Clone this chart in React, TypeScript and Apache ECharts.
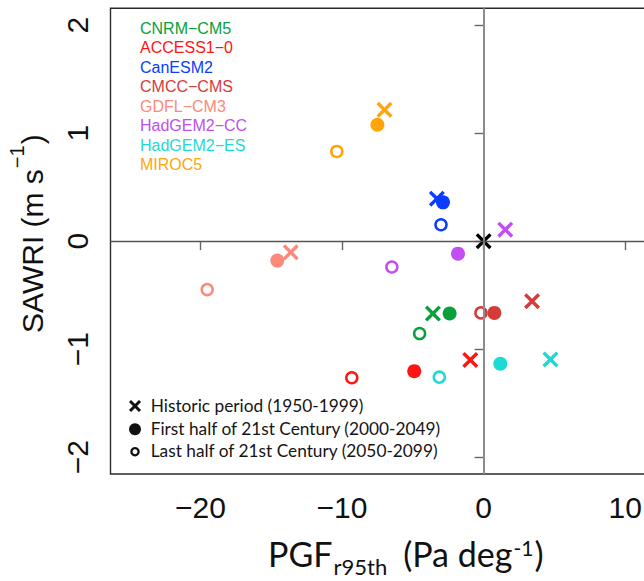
import React, { useEffect, useRef } from 'react';
import * as echarts from 'echarts';

// Models (legend labels) and colours
const models = ['CNRM−CM5', 'ACCESS1−0', 'CanESM2', 'CMCC−CMS', 'GDFL−CM3', 'HadGEM2−CC', 'HadGEM2−ES', 'MIROC5'];
const colors = ['#08A03A', '#FF1414', '#0A3CFF', '#D43C3C', '#FA8A7C', '#C04EF2', '#1DDAD2', '#FFA50A'];

// Historic period (1950-1999)  ×
const histX = [-3.58, -0.94, -3.30, 3.42, -13.62, 1.53, 4.72, -7.0];
const histY = [-0.67, -1.10, 0.393, -0.556, -0.103, 0.106, -1.095, 1.215];
// First half of 21st Century (2000-2049)  ●
const firstX = [-2.40, -4.90, -2.87, 0.76, -14.57, -1.81, 1.18, -7.5];
const firstY = [-0.67, -1.203, 0.359, -0.664, -0.18, -0.116, -1.135, 1.077];
// Last half of 21st Century (2050-2099)  o
const lastX = [-4.52, -9.31, -3.01, -0.19, -19.52, -6.48, -3.13, -10.37];
const lastY = [-0.855, -1.264, 0.152, -0.664, -0.448, -0.239, -1.259, 0.83];
// Reference point (black ×)
const refX = [0];
const refY = [0];

const xTicks = [-20, -10, 0, 10];
const yTicks = [-2, -1, 0, 1, 2];
const periodLabels = [
  'Historic period (1950-1999)',
  'First half of 21st Century (2000-2049)',
  'Last half of 21st Century (2050-2099)',
];

const X_PATH = 'path://M3,0 L10,7 L17,0 L20,3 L13,10 L20,17 L17,20 L10,13 L3,20 L0,17 L7,10 L0,3 Z';
const SANS = '"Liberation Sans", Arial, Helvetica, sans-serif';
const CAL = 'Lato, "Open Sans", sans-serif';

const fmt = (v: number) => (v < 0 ? '−' + Math.abs(v) : String(v));

function measure(text: string, font: string): number {
  const c = document.createElement('canvas').getContext('2d');
  if (!c) return text.length * 10;
  c.font = font;
  return c.measureText(text).width;
}

function txt(x: number, y: number, text: string, font: string, fill: string, align = 'left'): any {
  return {
    type: 'text',
    x,
    y,
    silent: true,
    style: {
      text,
      font,
      fill,
      align,
      verticalAlign: 'middle',
      textAlign: align,
      textVerticalAlign: 'middle',
    },
  };
}

export default function App() {
  const ref = useRef<HTMLDivElement>(null);

  useEffect(() => {
    if (!ref.current) return;
    const chart = echarts.init(ref.current, undefined, { renderer: 'svg' });

    const xMin = -26.35;
    const pxPerUnit = 14.16;
    const gridLeft = 110.5;
    const gridTop = 8.3;
    const gridWidth = 545;
    const gridHeight = 465.7;
    const xMax = xMin + gridWidth / pxPerUnit;

    const mkData = (xs: number[], ys: number[], open: boolean) =>
      xs.map((x, i) => ({
        value: [x, ys[i]],
        itemStyle: open
          ? { color: 'rgba(0,0,0,0)', borderColor: colors[i], borderWidth: 2.5, opacity: 1 }
          : { color: colors[i], opacity: 1 },
      }));

    // --- graphic elements ---
    const graphics: any[] = [];
    // model legend
    models.forEach((m, i) => {
      graphics.push(txt(140, 28.3 + i * 19.45, m, `16px ${SANS}`, colors[i]));
    });
    // period legend
    const lx = 135;
    const ly = [406, 429.3, 451.7];
    graphics.push({ type: 'line', silent: true, shape: { x1: lx - 5, y1: ly[0] - 5, x2: lx + 5, y2: ly[0] + 5 }, style: { stroke: '#111', lineWidth: 3 } });
    graphics.push({ type: 'line', silent: true, shape: { x1: lx - 5, y1: ly[0] + 5, x2: lx + 5, y2: ly[0] - 5 }, style: { stroke: '#111', lineWidth: 3 } });
    graphics.push({ type: 'circle', silent: true, shape: { cx: lx, cy: ly[1], r: 6 }, style: { fill: '#111' } });
    graphics.push({ type: 'circle', silent: true, shape: { cx: lx, cy: ly[2], r: 3.6 }, style: { fill: 'none', stroke: '#111', lineWidth: 2.3 } });
    const legFont = `17.3px ${CAL}`;
    periodLabels.forEach((t, i) => {
      graphics.push(txt(150.7, ly[i] - 1, t, legFont, '#151515'));
    });

    // x-axis title: PGF_r95th (Pa deg^-1)
    const F1 = `34px ${CAL}`;
    const F2 = `22px ${CAL}`;
    const F3 = `21px ${CAL}`;
    const base = 567;
    const k = 0.39;
    let cx = 268;
    graphics.push(txt(cx, base - k * 34, 'PGF', F1, '#111'));
    cx += measure('PGF', F1) + 1;
    graphics.push(txt(cx, 575.5 - k * 22, 'r95th', F2, '#111'));
    cx += measure('r95th', F2) + 16;
    graphics.push(txt(cx, base - k * 34, '(Pa deg', F1, '#111'));
    cx += measure('(Pa deg', F1) + 1;
    graphics.push(txt(cx, 556 - k * 21, '-1', F3, '#111'));
    cx += measure('-1', F3) + 1;
    graphics.push(txt(cx, base - k * 34, ')', F1, '#111'));

    // y-axis title: SAWRI (m s^-1), rotated
    const YF1 = `30px ${SANS}`;
    const YF2 = `20px ${SANS}`;
    const yChildren: any[] = [];
    let lx2 = 0;
    yChildren.push(txt(lx2, -0.347 * 30, 'SAWRI (m s', YF1, '#111'));
    lx2 += measure('SAWRI (m s', YF1) + 1;
    yChildren.push(txt(lx2, -26, '−1', YF2, '#111'));
    lx2 += measure('−1', YF2) + 1;
    yChildren.push(txt(lx2, -0.347 * 30, ')', YF1, '#111'));
    graphics.push({ type: 'group', x: 43, y: 333, rotation: Math.PI / 2, children: yChildren });

    chart.setOption({
      animation: false,
      textStyle: { fontFamily: SANS },
      grid: {
        left: gridLeft,
        top: gridTop,
        width: gridWidth,
        height: gridHeight,
        show: true,
        borderColor: '#2a2a2a',
        borderWidth: 1.4,
        backgroundColor: 'rgba(0,0,0,0)',
        containLabel: false,
        outerBoundsMode: 'none',
      },
      xAxis: {
        type: 'value',
        min: xMin,
        max: xMax,
        axisLine: { show: false },
        axisTick: { show: true, inside: false, length: 9, lineStyle: { color: '#666', width: 1.4 }, customValues: xTicks },
        axisLabel: { customValues: xTicks, fontSize: 30, fontFamily: SANS, color: '#111', margin: 18.5, formatter: fmt },
        splitLine: { show: false },
      },
      yAxis: {
        type: 'value',
        min: -2.155,
        max: 2.155,
        axisLine: { show: false },
        axisTick: { show: true, inside: false, length: 9, lineStyle: { color: '#666', width: 1.4 }, customValues: yTicks },
        axisLabel: { customValues: yTicks, fontSize: 30, fontFamily: SANS, color: '#111', margin: 18, rotate: 90, formatter: fmt },
        splitLine: { show: false },
      },
      graphic: { elements: graphics },
      series: [
        {
          type: 'scatter',
          name: 'axes0',
          z: 1,
          data: [],
          markLine: {
            silent: true,
            symbol: ['none', 'none'],
            label: { show: false },
            emphasis: { disabled: true },
            data: [
              { xAxis: 0, lineStyle: { color: '#8c8c8c', width: 2, type: 'solid', opacity: 1 } },
              { yAxis: 0, lineStyle: { color: '#555', width: 1.4, type: 'solid', opacity: 1 } },
            ],
          },
        },
        {
          type: 'scatter',
          name: 'last',
          z: 3,
          symbol: 'circle',
          symbolSize: 11,
          itemStyle: { opacity: 1 },
          data: mkData(lastX, lastY, true),
          emphasis: { disabled: true },
        },
        {
          type: 'scatter',
          name: 'hist',
          z: 3,
          symbol: X_PATH,
          symbolSize: 16,
          itemStyle: { opacity: 1 },
          data: mkData(histX, histY, false),
          emphasis: { disabled: true },
        },
        {
          type: 'scatter',
          name: 'first',
          z: 3,
          symbol: 'circle',
          symbolSize: 14,
          itemStyle: { opacity: 1 },
          data: mkData(firstX, firstY, false),
          emphasis: { disabled: true },
        },
        {
          type: 'scatter',
          name: 'ref',
          z: 4,
          symbol: X_PATH,
          symbolSize: 16,
          data: refX.map((x, i) => [x, refY[i]]),
          itemStyle: { color: '#000', opacity: 1 },
          emphasis: { disabled: true },
        },
      ],
    });

    return () => chart.dispose();
  }, []);

  return (
    <div
      ref={ref}
      style={{ position: 'absolute', left: 0, top: 0, width: 644, height: 581, background: '#fff', overflow: 'hidden' }}
    />
  );
}
